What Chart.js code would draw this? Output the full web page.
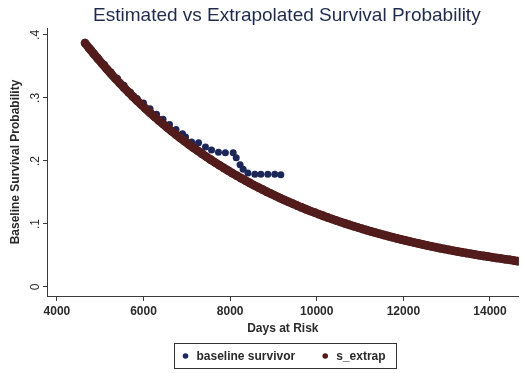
<!DOCTYPE html>
<html>
<head>
<meta charset="utf-8">
<title>Estimated vs Extrapolated Survival Probability</title>
<script src="https://cdn.jsdelivr.net/npm/chart.js@4.4.1/dist/chart.umd.min.js"></script>
<style>
  html, body { margin: 0; padding: 0; background: #fff; }
  #wrap { width: 523px; height: 373px; position: relative; }
</style>
</head>
<body>
<div id="wrap"><canvas id="myChart"></canvas></div>
<script>
const chartTitle = 'Estimated vs Extrapolated Survival Probability';
const xTitle = 'Days at Risk';
const yTitle = 'Baseline Survival Probability';
const seriesNames = ['baseline survivor', 's_extrap'];

const xTicks = [4000, 6000, 8000, 10000, 12000, 14000];
const yTicks = [0, 0.1, 0.2, 0.3, 0.4];

// baseline survivor (observed)
const survDays = [4650, 4800, 4950, 5100, 5250, 5400, 5550, 5700, 5850, 6000,
  6150, 6300, 6450, 6600, 6750, 6900, 6970, 7110, 7270, 7430, 7570, 7730,
  7890, 8070, 8140, 8230, 8300, 8410, 8570, 8710, 8870, 9030, 9170];
const survVals = [0.387, 0.376, 0.364, 0.353, 0.341, 0.331, 0.320, 0.309, 0.299, 0.292,
  0.283, 0.274, 0.266, 0.258, 0.250, 0.243, 0.238, 0.230, 0.229, 0.222, 0.2175, 0.214,
  0.213, 0.213, 0.205, 0.194, 0.187, 0.181, 0.179, 0.179, 0.179, 0.179, 0.178];

// s_extrap (extrapolated)
const extrapDays = [4650, 4750, 4850, 4950, 5050, 5150, 5250, 5350, 5450, 5550,
  5650, 5750, 5850, 5950, 6050, 6150, 6250, 6350, 6450, 6550,
  6650, 6750, 6850, 6950, 7050, 7150, 7250, 7350, 7450, 7550,
  7650, 7750, 7850, 7950, 8050, 8150, 8250, 8350, 8450, 8550,
  8650, 8750, 8850, 8950, 9050, 9150, 9250, 9350, 9450, 9550,
  9650, 9750, 9850, 9950, 10050, 10150, 10250, 10350, 10450, 10550,
  10650, 10750, 10850, 10950, 11050, 11150, 11250, 11350, 11450, 11550,
  11650, 11750, 11850, 11950, 12050, 12150, 12250, 12350, 12450, 12550,
  12650, 12750, 12850, 12950, 13050, 13150, 13250, 13350, 13450, 13550,
  13650, 13750, 13850, 13950, 14050, 14150, 14250, 14350, 14450, 14550, 14650];
const extrapVals = [0.3870, 0.3784, 0.3700, 0.3618, 0.3538, 0.3460, 0.3383, 0.3308, 0.3235, 0.3163,
  0.3093, 0.3025, 0.2958, 0.2892, 0.2828, 0.2765, 0.2704, 0.2644, 0.2586, 0.2528,
  0.2472, 0.2418, 0.2364, 0.2312, 0.2260, 0.2210, 0.2161, 0.2113, 0.2067, 0.2021,
  0.1976, 0.1932, 0.1890, 0.1848, 0.1807, 0.1767, 0.1728, 0.1689, 0.1652, 0.1615,
  0.1580, 0.1545, 0.1510, 0.1477, 0.1444, 0.1412, 0.1381, 0.1350, 0.1320, 0.1291,
  0.1263, 0.1235, 0.1207, 0.1181, 0.1154, 0.1129, 0.1104, 0.1079, 0.1055, 0.1032,
  0.1009, 0.0987, 0.0965, 0.0944, 0.0923, 0.0902, 0.0882, 0.0863, 0.0844, 0.0825,
  0.0807, 0.0789, 0.0771, 0.0754, 0.0737, 0.0721, 0.0705, 0.0690, 0.0674, 0.0659,
  0.0645, 0.0630, 0.0616, 0.0603, 0.0589, 0.0576, 0.0564, 0.0551, 0.0539, 0.0527,
  0.0515, 0.0504, 0.0493, 0.0482, 0.0471, 0.0461, 0.0451, 0.0441, 0.0431, 0.0421, 0.0410];

const FONT = '"Liberation Sans", Arial, Helvetica, sans-serif';
const INK = '#2a2a2a';
const colBlue = '#1c2759';
const colMaroon = '#531c1c';

function toPoints(xs, ys) {
    return xs.map((x, i) => ({ x: x, y: ys[i] }));
}

// title centred over the plot region
const titlePlugin = {
    id: 'plotTitle',
    afterDraw(chart) {
        const c = chart.ctx;
        const a = chart.chartArea;
        c.save();
        c.font = '19px ' + FONT;
        c.fillStyle = '#1f2a4d';
        c.textAlign = 'center';
        c.textBaseline = 'middle';
        c.fillText(chartTitle, (a.left + a.right) / 2 + 4, 16);
        c.restore();
    }
};

// boxed legend under the x axis title
const boxLegend = {
    id: 'boxLegend',
    afterDraw(chart) {
        const c = chart.ctx;
        const a = chart.chartArea;
        const sets = [chart.data.datasets[1], chart.data.datasets[0]];
        c.save();
        c.font = 'bold 12px ' + FONT;
        const pad = 11, gap = 11, between = 30;
        const widths = sets.map(d => c.measureText(d.label).width);
        let total = pad * 2;
        widths.forEach((w, i) => { total += gap + w + (i < widths.length - 1 ? between : 0); });
        const cx = (a.left + a.right) / 2 + 2;
        const left = Math.round(cx - total / 2) + 0.5;
        const top = 343.5, h = 25, yMid = top + h / 2;
        c.strokeStyle = '#333';
        c.lineWidth = 1;
        c.strokeRect(left, top, Math.round(total), h);
        let x = left + pad;
        sets.forEach((d, i) => {
            c.fillStyle = d.backgroundColor;
            c.beginPath();
            c.arc(x, yMid, 2.8, 0, Math.PI * 2);
            c.fill();
            c.fillStyle = INK;
            c.textAlign = 'left';
            c.textBaseline = 'middle';
            c.fillText(d.label, x + gap, yMid + 0.5);
            x += gap + widths[i] + between;
        });
        c.restore();
    }
};

const ctx = document.getElementById('myChart').getContext('2d');
const myChart = new Chart(ctx, {
    type: 'scatter',
    data: {
        datasets: [{
            // dense markers: joined into one thick band, drawn over the observed curve
            label: seriesNames[1],
            data: toPoints(extrapDays, extrapVals),
            backgroundColor: colMaroon,
            borderColor: colMaroon,
            showLine: true,
            borderWidth: 8.6,
            borderCapStyle: 'round',
            borderJoinStyle: 'round',
            pointBorderWidth: 0,
            pointRadius: 4.3,
            pointHoverRadius: 4.3
        }, {
            label: seriesNames[0],
            data: toPoints(survDays, survVals),
            backgroundColor: colBlue,
            borderColor: colBlue,
            borderWidth: 0,
            pointRadius: 3.5,
            pointHoverRadius: 3.5
        }]
    },
    options: {
        responsive: true,
        maintainAspectRatio: false,
        animation: false,
        layout: { padding: { top: 28, left: 0, right: 0, bottom: 30 } },
        plugins: {
            legend: { display: false },
            title: { display: false },
            tooltip: { enabled: false }
        },
        scales: {
            x: {
                type: 'linear',
                min: 3771,
                max: 14663,
                afterBuildTicks: (scale) => { scale.ticks = xTicks.map(v => ({ value: v })); },
                afterFit: (scale) => { scale.height = 47; },
                border: { display: true, color: '#3a3a3a', width: 1 },
                grid: { drawOnChartArea: false, drawTicks: true, tickLength: 5, color: '#3a3a3a' },
                ticks: {
                    color: INK,
                    padding: 3,
                    maxRotation: 0,
                    font: { family: FONT, size: 12, weight: 'bold' },
                    callback: (v) => String(v)
                },
                title: {
                    display: true,
                    text: xTitle,
                    color: INK,
                    font: { family: FONT, size: 12, weight: 'bold' },
                    padding: { top: 0, bottom: 7 }
                }
            },
            y: {
                type: 'linear',
                min: -0.0143,
                max: 0.411,
                afterBuildTicks: (scale) => { scale.ticks = yTicks.map(v => ({ value: v })); },
                afterFit: (scale) => { scale.width = 47; },
                border: { display: true, color: '#3a3a3a', width: 1 },
                grid: { drawOnChartArea: false, drawTicks: true, tickLength: 4, color: '#3a3a3a' },
                ticks: {
                    color: INK,
                    padding: 2,
                    minRotation: 90,
                    maxRotation: 90,
                    crossAlign: 'center',
                    font: { family: FONT, size: 12 },
                    callback: (v) => (v === 0 ? '0' : String(v).replace(/^0/, ''))
                },
                title: {
                    display: true,
                    text: yTitle,
                    color: INK,
                    font: { family: FONT, size: 12, weight: 'bold' },
                    padding: { top: 8, bottom: 0 }
                }
            }
        }
    },
    plugins: [titlePlugin, boxLegend]
});
</script>
</body>
</html>
